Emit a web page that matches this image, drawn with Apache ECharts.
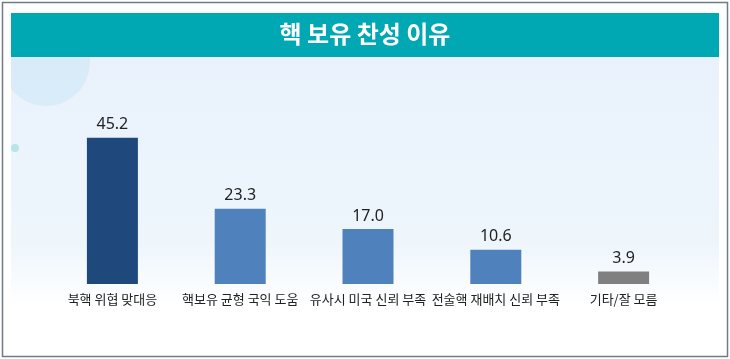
<!DOCTYPE html>
<html><head><meta charset="utf-8">
<script src="https://cdn.jsdelivr.net/npm/echarts@6/dist/echarts.min.js"></script>
<style>html,body{margin:0;padding:0;background:#fff}#c{width:730px;height:359px}</style>
</head><body><div id="c"></div>
<script>
const title = '핵 보유 찬성 이유';
const categories = ['북핵 위협 맞대응', '핵보유 균형 국익 도움', '유사시 미국 신뢰 부족', '전술핵 재배치 신뢰 부족', '기타/잘 모름'];
const values = [45.2, 23.3, 17.0, 10.6, 3.9];
const barColors = ['#1f497d', '#4f81bd', '#4f81bd', '#4f81bd', '#808080'];

const chart = echarts.init(document.getElementById('c'));
chart.setOption({
  animation: false,
  backgroundColor: '#ffffff',
  graphic: [
    { type: 'rect', z: -10, shape: { x: 11, y: 57, width: 708, height: 250 },
      style: { fill: new echarts.graphic.LinearGradient(0, 0, 0, 1, [
        { offset: 0, color: '#e9f2fc' }, { offset: 0.75, color: '#eef6fc' }, { offset: 1, color: '#ffffff' }]) } },
    { type: 'circle', z: -9, shape: { cx: 46, cy: 62, r: 44 }, style: { fill: '#d6eaf8', opacity: 0.85 } },
    { type: 'circle', z: -9, shape: { cx: 15, cy: 148, r: 4 }, style: { fill: '#b5e6e8' } },
    { type: 'rect', z: -8, shape: { x: 0, y: 0, width: 11, height: 359 }, style: { fill: '#ffffff' } },
    { type: 'rect', z: -7, shape: { x: 11, y: 13, width: 708, height: 44 }, style: { fill: '#00a8b4' } },
    { type: 'rect', z: -6, shape: { x: 2.5, y: 2.5, width: 725, height: 354 }, style: { fill: null, stroke: '#6f7b88', lineWidth: 1.5 } }
  ],
  title: {
    text: title, left: 'center', top: 17,
    textStyle: { color: '#ffffff', fontSize: 24, fontWeight: 'bold', fontFamily: 'Noto Sans CJK KR' }
  },
  grid: { left: 48.5, right: 42.5, top: 90, bottom: 75, containLabel: false },
  xAxis: {
    type: 'category', data: categories,
    axisLine: { show: false }, axisTick: { show: false },
    axisLabel: { color: '#222', fontSize: 13, margin: 9, fontFamily: 'Noto Sans CJK KR', interval: 0 }
  },
  yAxis: { type: 'value', min: 0, max: 60, show: false, splitLine: { show: false } },
  series: [{
    type: 'bar', barWidth: 51,
    data: values.map((v, i) => ({ value: v, itemStyle: { color: barColors[i] } })),
    label: { show: true, position: 'top', distance: 5, color: '#222', fontSize: 16, fontFamily: 'Noto Sans', formatter: p => p.value.toFixed(1) }
  }]
});
</script></body></html>
